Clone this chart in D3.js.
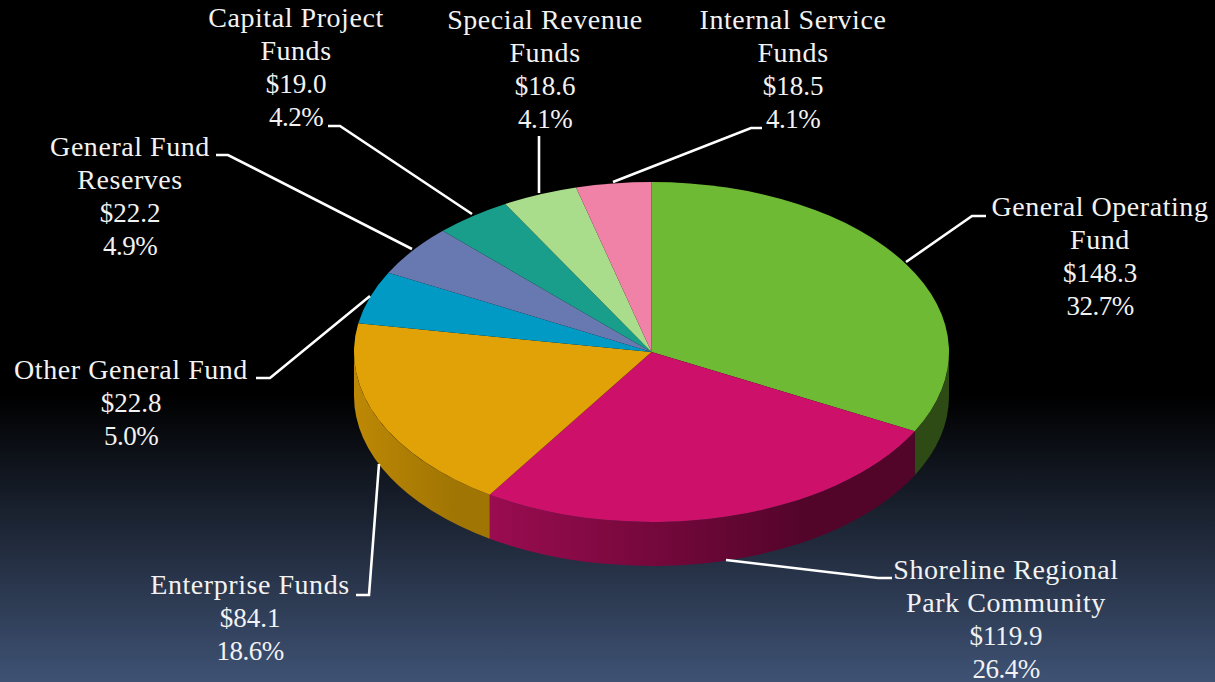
<!DOCTYPE html>
<html lang="en">
<head>
<meta charset="UTF-8">
<title>Funds pie</title>
<style>
    html, body { margin: 0; padding: 0; background: #000; overflow: hidden; }
    svg { display: block; }
    text { font-family: "Liberation Serif", serif; font-size: 27px; fill: #f2f2f2; text-anchor: middle; }
    .name { font-size: 28px; letter-spacing: 0.55px; }
    .percent { letter-spacing: -0.5px; }
</style>
</head>
<body>
<svg id="chart" width="1215" height="682"></svg>
<script src="https://d3js.org/d3.v7.min.js"></script>
<script>
    const funds = ["General Operating Fund", "Shoreline Regional Park Community", "Enterprise Funds", "Other General Fund",
        "General Fund Reserves", "Capital Project Funds", "Special Revenue Funds", "Internal Service Funds"];
    const amounts = [148.3, 119.9, 84.1, 22.8, 22.2, 19.0, 18.6, 18.5];
    const amountLabels = ["$148.3", "$119.9", "$84.1", "$22.8", "$22.2", "$19.0", "$18.6", "$18.5"];
    const percentLabels = ["32.7%", "26.4%", "18.6%", "5.0%", "4.9%", "4.2%", "4.1%", "4.1%"];
    const topColors = ["#6fba35", "#cd116b", "#e0a206", "#009ac5", "#6779b0", "#189e8a", "#a9dd8c", "#f082a8"];

    // how each label is broken over lines
    const nameLines = [["General Operating", "Fund"], ["Shoreline Regional", "Park Community"], ["Enterprise Funds"],
        ["Other General Fund"], ["General Fund", "Reserves"], ["Capital Project", "Funds"], ["Special Revenue", "Funds"], ["Internal Service", "Funds"]];

    // label centre + first baseline, then leader line points (pie edge -> elbow -> end)
    const labelSpots = [
        { x: 1100, y: 216, leader: [[906, 262], [972, 216], [986, 216]] },
        { x: 1006, y: 579, leader: [[726, 560], [878, 578], [892, 578]] },
        { x: 250, y: 594, leader: [[379, 464], [369, 595], [356, 595]] },
        { x: 131, y: 379, leader: [[370, 296], [270, 378], [256, 378]] },
        { x: 130, y: 156, leader: [[412, 249], [228, 155], [216, 155]] },
        { x: 296, y: 27, leader: [[472, 214], [340, 126], [328, 126]] },
        { x: 545, y: 29, leader: [[539, 193], [539, 136]] },
        { x: 793, y: 29, leader: [[613, 182], [751, 128], [762, 128]] }
    ];

    const width = 1215, height = 682;
    const cx = 651.5, cy = 352, rx = 297.5, ry = 170, depth = 44;

    const svg = d3.select("#chart");
    const defs = svg.append("defs");

    const bg = defs.append("linearGradient").attr("id", "bg").attr("x1", 0).attr("y1", 0).attr("x2", 0).attr("y2", 1);
    bg.append("stop").attr("offset", "58%").attr("stop-color", "#000");
    bg.append("stop").attr("offset", "100%").attr("stop-color", "#3f5274");

    svg.append("rect").attr("width", width).attr("height", height).attr("fill", "url(#bg)");

    const pie = d3.pie().sort(null).value(d => d);
    const slices = pie(amounts);
    const arc = d3.arc().innerRadius(0).outerRadius(rx);

    // side wall colours, left to right along the rim
    const sideStops = [
        ["#2e4a15", "#2e4a15"],
        ["#9a0c50", "#520429"],
        ["#bd8805", "#a07503"]
    ];

    // rim point for a pie angle (0 = 12 o'clock, clockwise)
    const rimX = a => cx + rx * Math.sin(a);
    const rimY = a => cy - ry * Math.cos(a);

    const walls = svg.append("g");
    slices.forEach((s, i) => {
        // only the front half of the rim shows
        const a0 = Math.max(s.startAngle, Math.PI / 2);
        const a1 = Math.min(s.endAngle, Math.PI * 1.5);
        if (a1 <= a0) return;
        const id = "side" + i;
        const g = defs.append("linearGradient").attr("id", id).attr("gradientUnits", "userSpaceOnUse")
            .attr("x1", Math.min(rimX(a0), rimX(a1))).attr("x2", Math.max(rimX(a0), rimX(a1))).attr("y1", 0).attr("y2", 0);
        g.append("stop").attr("offset", "0%").attr("stop-color", sideStops[i][0]);
        g.append("stop").attr("offset", "75%").attr("stop-color", sideStops[i][1]);
        const d = `M${rimX(a0)},${rimY(a0)}A${rx},${ry} 0 0 1 ${rimX(a1)},${rimY(a1)}` +
            `L${rimX(a1)},${rimY(a1) + depth}A${rx},${ry} 0 0 0 ${rimX(a0)},${rimY(a0) + depth}Z`;
        walls.append("path").attr("d", d).attr("fill", `url(#${id})`);
    });

    svg.append("g")
        .attr("transform", `translate(${cx},${cy}) scale(1,${ry / rx})`)
        .selectAll("path")
        .data(slices)
        .enter().append("path")
        .attr("d", arc)
        .attr("fill", (d, i) => topColors[i]);

    const line = d3.line();
    svg.append("g").selectAll("path")
        .data(labelSpots)
        .enter().append("path")
        .attr("d", d => line(d.leader))
        .attr("fill", "none")
        .attr("stroke", "#fff")
        .attr("stroke-width", 2.6);

    const lineGap = 33;
    const labels = svg.append("g");
    funds.forEach((name, i) => {
        const t = labels.append("text").attr("data-name", name);
        const rows = nameLines[i].map(r => [r, "name"]).concat([[amountLabels[i], "amount"], [percentLabels[i], "percent"]]);
        rows.forEach((row, j) => {
            t.append("tspan").attr("class", row[1]).attr("x", labelSpots[i].x).attr("y", labelSpots[i].y + j * lineGap).text(row[0]);
        });
    });
</script>
</body>
</html>
